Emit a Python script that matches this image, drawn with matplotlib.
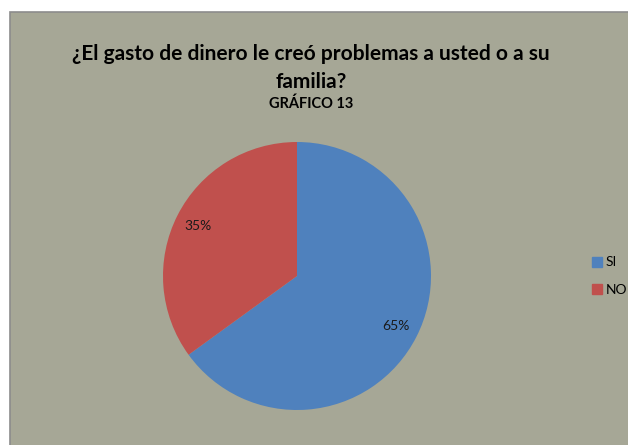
import matplotlib.pyplot as plt
from matplotlib.patches import Rectangle
from matplotlib.lines import Line2D

categorias = ['SI', 'NO']
valores = [65, 35]
colores = ['#4F81BD', '#C0504D']
titulo = '¿El gasto de dinero le creó problemas a usted o a su\nfamilia?'
subtitulo = 'GRÁFICO 13'

W, H = 628, 445
fig = plt.figure(figsize=(W / 100, H / 100), dpi=100)
fig.patch.set_facecolor('white')

# fondo del area del grafico
fig.add_artist(Rectangle((10 / W, -0.01), 1.0, (H - 12) / H + 0.01,
                         transform=fig.transFigure, facecolor='#A6A796',
                         edgecolor='#8C8C8C', linewidth=1.2, zorder=-5))

# pie centrado en (297, 276) px con radio 134
cx, cy, r = 297, 276, 134
ax = fig.add_axes([(cx - r) / W, (H - cy - r) / H, 2 * r / W, 2 * r / H])
ax.set_zorder(2)
wedges, texts, autotexts = ax.pie(valores, colors=colores, startangle=90,
                                  counterclock=False, autopct='%1.0f%%',
                                  pctdistance=0.83,
                                  textprops={'fontsize': 10, 'color': '#1a1a1a',
                                             'family': 'Lato'})
ax.set_xlim(-1, 1)
ax.set_ylim(-1, 1)
ax.set_aspect('equal')
ax.axis('off')

fig.text(311 / W, 1 - 68 / H, titulo, ha='center', va='center',
         fontsize=15, fontweight='bold', family='Lato', linespacing=1.5)
fig.text(311 / W, 1 - 104 / H, subtitulo, ha='center', va='center',
         fontsize=10.5, fontweight='bold', family='Lato')

handles = [Line2D([], [], marker='s', linestyle='none', markersize=7,
                  markerfacecolor=c, markeredgecolor=c) for c in colores]
fig.legend(handles, categorias, loc='center left',
           bbox_to_anchor=(578 / W, 1 - 276 / H), frameon=False,
           prop={'family': 'Lato', 'size': 10}, handletextpad=0.1,
           labelspacing=1.1, handlelength=1.0)

fig.savefig('out.png', dpi=100)
